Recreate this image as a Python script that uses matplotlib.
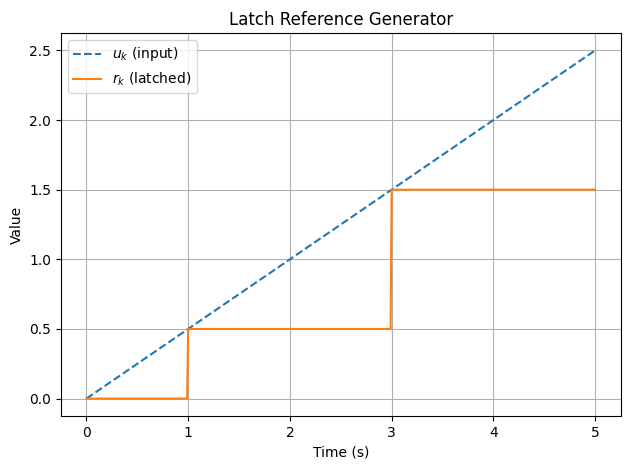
import matplotlib
matplotlib.use('Agg')
import matplotlib.pyplot as plt

# input ramp endpoints
t_in = [0.0, 5.0]
u_in = [0.0, 2.5]
# latched reference (sampled)
t_latch = [0.0, 0.99, 1.0, 2.99, 3.0, 5.0]
r_latch = [0.0, 0.0, 0.5, 0.5, 1.5, 1.5]

fig, ax = plt.subplots(figsize=(6.3, 4.7), dpi=100)
ax.plot(t_in, u_in, '--', label=r'$u_k$ (input)')
ax.plot(t_latch, r_latch, label=r'$r_k$ (latched)')
ax.set_xlabel('Time (s)')
ax.set_ylabel('Value')
ax.set_title('Latch Reference Generator')
ax.grid(True)
ax.legend(loc='upper left')
fig.subplots_adjust(left=0.0968, right=0.985, top=0.9298, bottom=0.1149)
plt.savefig('out.png')
